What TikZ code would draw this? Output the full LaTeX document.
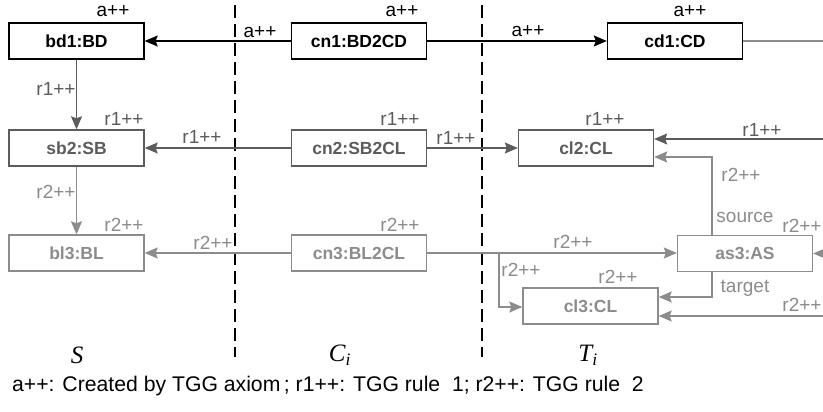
\documentclass[tikz,border=0pt]{standalone}
\usepackage{fontspec}
\setmainfont{Liberation Sans}
\newfontfamily\serifit{Liberation Serif}
\usetikzlibrary{arrows.meta}
\definecolor{rone}{HTML}{5C5C5C}
\definecolor{rtwo}{HTML}{8C8C8C}
\tikzset{
  obj/.style={draw, line width=1.4pt, minimum width=135pt, minimum height=36pt, inner sep=0pt, font=\fontsize{17.5}{19}\selectfont\bfseries},
  lbl/.style={inner sep=0pt, font=\fontsize{19}{21}\selectfont},
  tip/.style={-{Stealth[length=13pt,width=11pt,inset=2pt]}},
  blk/.style={black},
  cone/.style={rone, text=rone},
  ctwo/.style={rtwo, text=rtwo},
  ln/.style={line width=1.1pt},
  sep/.style={line width=2.6pt, dash pattern=on 13pt off 6pt},
}
\begin{document}
\begin{tikzpicture}[x=1pt,y=-1pt]
\useasboundingbox[fill=white] (0,0) rectangle (823,412);
% separators
\coordinate (s1t) at (235,5); \coordinate (s1b) at (235,357);
\coordinate (s2t) at (482,5); \coordinate (s2b) at (482,357);
\draw[sep] (s1t) -- (s1b);
\draw[sep] (s2t) -- (s2b);
% boxes
\node[obj,blk] (bd1) at (76.5,41) {bd1:BD};
\node[obj,blk] (cn1) at (359,41) {cn1:BD2CD};
\node[obj,blk] (cd1) at (675,41) {cd1:CD};
\node[obj,cone] (sb2) at (76.5,148) {sb2:SB};
\node[obj,cone] (cn2) at (359,148) {cn2:SB2CL};
\node[obj,cone] (cl2) at (586,148) {cl2:CL};
\node[obj,ctwo] (bl3) at (76.5,253) {bl3:BL};
\node[obj,ctwo] (cn3) at (359,253) {cn3:BL2CL};
\node[obj,ctwo] (as3) at (745,253.5) {as3:AS};
\node[obj,ctwo] (cl3) at (590.5,306) {cl3:CL};
% edge coordinates
\coordinate (e0) at (823,41);
\coordinate (e1) at (823,139);
\coordinate (e2) at (823,253.5);
\coordinate (e3) at (823,316);
\coordinate (srcbend) at (712,157);
\coordinate (tgtbend) at (712,297);
\coordinate (br) at (499,253);
\coordinate (brb) at (499,307);
% connectors
\draw[ln,blk,tip] (cn1) -- (bd1);
\draw[ln,blk,tip] (cn1) -- (cd1);
\draw[ln,rtwo] (cd1.east) -- (e0);
\draw[ln,cone,tip] (bd1) -- (sb2);
\draw[ln,cone,tip] (cn2) -- (sb2);
\draw[ln,cone,tip] (cn2) -- (cl2);
\draw[ln,cone,tip] (e1) -- (e1 -| cl2.east);
\draw[ln,ctwo,tip] (as3.north -| srcbend) |- (srcbend -| cl2.east);
\draw[ln,ctwo,tip] (sb2) -- (bl3);
\draw[ln,ctwo,tip] (cn3) -- (bl3);
\draw[ln,ctwo,tip] (cn3) -- (as3.west |- cn3);
\draw[ln,ctwo,tip] (br) |- (brb -| cl3.west);
\draw[ln,ctwo,tip] (as3.south -| tgtbend) |- (tgtbend -| cl3.east);
\draw[ln,ctwo,tip] (e2) -- (as3.east);
\draw[ln,ctwo,tip] (e3) -- (e3 -| cl3.east);
% labels
\node[lbl] (l1) at (113,11) {a++};
\node[lbl] (l2) at (402,11) {a++};
\node[lbl] (l3) at (690,11) {a++};
\node[lbl] (l4) at (260,32) {a++};
\node[lbl] (l5) at (528,31) {a++};
\node[lbl,cone] (l6) at (56,89) {r1++};
\node[lbl,cone] (l7) at (124,119) {r1++};
\node[lbl,cone] (l8) at (400,119) {r1++};
\node[lbl,cone] (l9) at (605,119) {r1++};
\node[lbl,cone] (l10) at (202,137) {r1++};
\node[lbl,cone] (l11) at (456,138) {r1++};
\node[lbl,cone] (l12) at (762,130) {r1++};
\node[lbl,ctwo] (l13) at (741,175) {r2++};
\node[lbl,ctwo] (l14) at (56,192) {r2++};
\node[lbl,ctwo] (l15) at (124,225) {r2++};
\node[lbl,ctwo] (l16) at (400,225) {r2++};
\node[lbl,ctwo] (l17) at (213,243) {r2++};
\node[lbl,ctwo] (l18) at (573,242) {r2++};
\node[lbl,ctwo] (l19) at (521,270) {r2++};
\node[lbl,ctwo] (l20) at (618,277) {r2++};
\node[lbl,ctwo] (l21) at (745,217) {source};
\node[lbl,ctwo] (l22) at (802,226) {r2++};
\node[lbl,ctwo] (l23) at (745,288) {target};
\node[lbl,ctwo] (l24) at (802,305) {r2++};
% domain labels
\node[inner sep=0pt,font=\fontsize{25}{27}\selectfont\serifit\itshape] (dS) at (77,355) {S};
\node[inner sep=0pt,font=\fontsize{25}{27}\selectfont\serifit\itshape] (dC) at (340,355) {C\textsubscript{i}};
\node[inner sep=0pt,font=\fontsize{25}{27}\selectfont\serifit\itshape] (dT) at (588,355) {T\textsubscript{i}};
% caption
\node[inner sep=0pt,anchor=west,font=\fontsize{21.2}{23}\selectfont] (cap) at (12,386) {a++: Created by TGG axiom\,; r1++: TGG rule~~1; r2++: TGG rule~~2};
\end{tikzpicture}
\end{document}
